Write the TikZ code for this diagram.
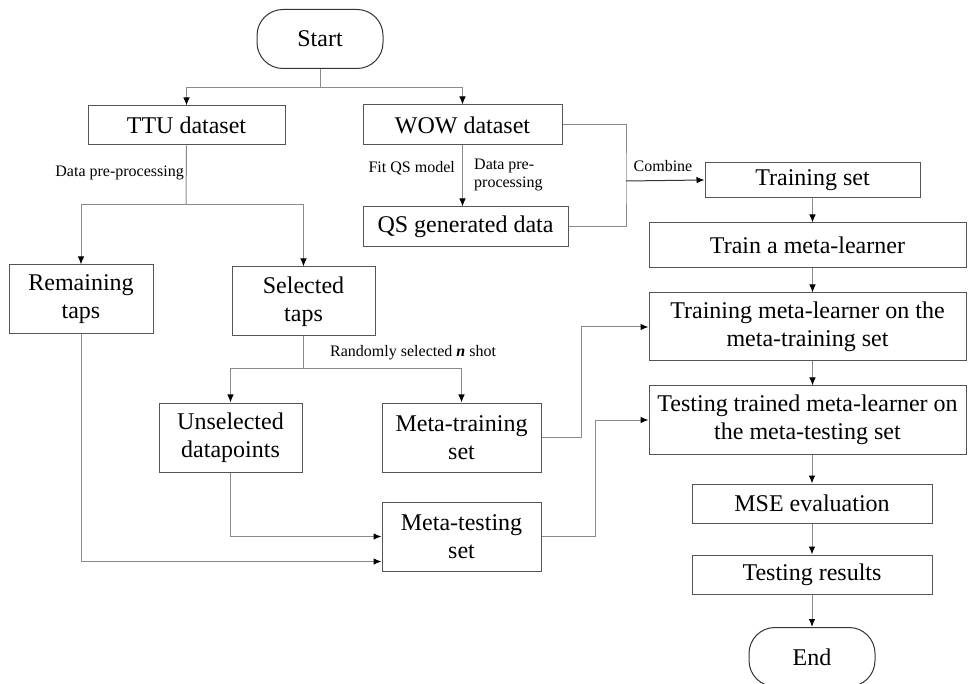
\documentclass[tikz,border=0pt]{standalone}
\usepackage{fontspec}
\setmainfont{Liberation Serif}
\usetikzlibrary{arrows.meta,positioning,calc}
\definecolor{FlowLine}{HTML}{8A8A8A}
\definecolor{FlowBorder}{HTML}{555555}

\begin{document}
\begin{tikzpicture}[x=1pt,y=-1pt,
  stepbox/.style={draw=FlowBorder,line width=1pt,align=center,inner sep=0pt,font=\fontsize{24}{28}\selectfont},
  terminal/.style={stepbox,draw=black!80,rounded corners=26pt,minimum width=126pt,minimum height=59pt},
  lbl/.style={font=\fontsize{16}{18}\selectfont,inner sep=0pt},
  link/.style={draw=FlowLine,line width=1pt},
  arrow/.style={link,-{Latex[length=8pt,width=6.5pt,color=black]}},
]
\useasboundingbox (0,0) rectangle (969,684);
% left column: data sources
\node[terminal] (start) at (320,39) {Start};
\node[stepbox,minimum width=197pt,minimum height=39pt] (ttu) at (186.5,125.5) {TTU dataset};
\node[stepbox,minimum width=199pt,minimum height=40pt] (wow) at (462.5,125) {WOW dataset};
\node[stepbox,minimum width=205pt,minimum height=40pt] (qs) at (465.5,227) {QS generated data};
\node[stepbox,minimum width=144pt,minimum height=69pt] (remain) at (81,299.5) {Remaining\\taps};
\node[stepbox,minimum width=143pt,minimum height=69pt] (sel) at (303.5,301.5) {Selected\\taps};
\node[stepbox,minimum width=143pt,minimum height=69pt] (unsel) at (230.5,437.5) {Unselected\\datapoints};
\node[stepbox,minimum width=159pt,minimum height=69pt] (mtrain) at (461.5,437.5) {Meta-training\\set};
\node[stepbox,minimum width=159pt,minimum height=69pt] (mtest) at (461.5,536.5) {Meta-testing\\set};
% right column: meta-learning
\node[stepbox,minimum width=215pt,minimum height=35pt] (train) at (812.5,180) {Training set};
\node[stepbox,minimum width=317pt,minimum height=45pt] (meta) at (807.5,245.5) {Train a meta-learner};
\node[stepbox,minimum width=317pt,minimum height=68pt] (trml) at (807.5,327) {Training meta-learner on the\\meta-training set};
\node[stepbox,minimum width=317pt,minimum height=68pt] (test) at (807.5,420) {Testing trained meta-learner on\\the meta-testing set};
\node[stepbox,minimum width=240pt,minimum height=39pt] (mse) at (812,503.5) {MSE evaluation};
\node[stepbox,minimum width=240pt,minimum height=39pt] (res) at (812,574.5) {Testing results};
\node[terminal] (end) at (812,657) {End};
% labels
\node[lbl,anchor=east] (lpre) at (184,173) {Data pre-processing};
\node[lbl,anchor=east] (lfit) at (455,168) {Fit QS model};
\node[lbl,anchor=north west,align=left,font=\fontsize{16}{18}\selectfont] (lwow) at (474,159) {Data pre-\\processing};
\node[lbl] (lcomb) at (663,166) {Combine};
\node[lbl,anchor=west] (lrand) at (330,353) {Randomly selected \textbf{\textit{n}} shot};
% connectors
\coordinate (s1) at ($(start.south)+(0,19)$);
\draw[link] (start.south) -- (s1);
\draw[arrow] (s1) -| (ttu.north);
\draw[arrow] (s1) -| (wow.north);
\coordinate (t1) at (186,205);
\draw[link] (ttu.south) -- (t1);
\draw[arrow] (t1) -| (remain.north);
\draw[arrow] (t1) -| (sel.north);
\draw[arrow] (wow.south) -- (wow.south |- qs.north);
\coordinate (cmb) at (626,181);
\draw[link] (wow.east) -| (cmb) |- (qs.east);
\draw[arrow,draw=black!80] (cmb) -- (train.west);
\draw[arrow] (train.south) -- (train.south |- meta.north);
\draw[arrow] (train.south |- meta.south) -- (train.south |- trml.north);
\draw[arrow] (train.south |- trml.south) -- (train.south |- test.north);
\draw[arrow] (mse.north |- test.south) -- (mse.north);
\draw[arrow] (mse.south) -- (res.north);
\draw[arrow] (res.south) -- (end.north);
\coordinate (r1) at (303.5,369);
\draw[link] (sel.south) -- (r1);
\draw[arrow] (r1) -| (unsel.north);
\draw[arrow] (r1) -| (mtrain.north);
\draw[arrow] (mtrain.east) -- ++(40,0) |- (trml.west);
\draw[arrow] (mtest.east) -- ++(54,0) |- (test.west);
\draw[arrow] (unsel.south) |- (mtest.west);
\draw[arrow] (remain.south) |- ($(mtest.west)+(0,25)$);
\end{tikzpicture}
\end{document}
